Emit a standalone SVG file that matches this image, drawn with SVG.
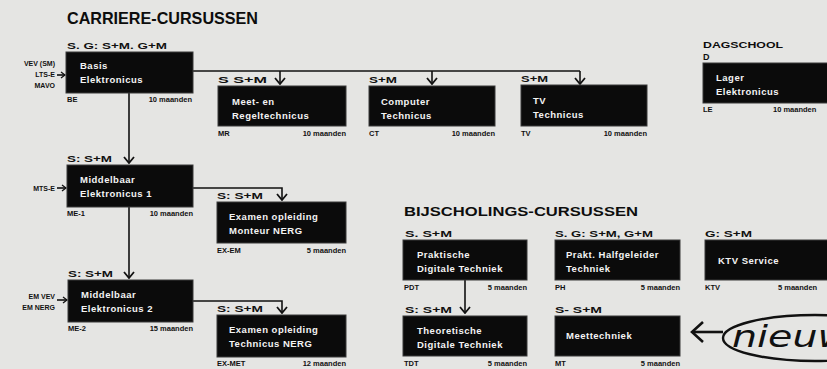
<svg xmlns="http://www.w3.org/2000/svg" width="827" height="369" viewBox="0 0 827 369">
<defs>
<style>
.bg{fill:#e5e5e3}
.box{fill:#0b0b0b;stroke:#3a3a3a;stroke-width:1}
.bt{font-family:"Liberation Sans",Arial,sans-serif;font-weight:bold;font-size:9.5px;fill:#f4f4f4;letter-spacing:0.5px}
.lb{font-family:"Liberation Sans",Arial,sans-serif;font-weight:bold;font-size:9px;fill:#111}
.sm{font-family:"Liberation Sans",Arial,sans-serif;font-weight:bold;font-size:7.5px;fill:#111}
.ttl{font-family:"Liberation Sans",Arial,sans-serif;font-weight:bold;fill:#0d0d0d}
.ln{fill:none;stroke:#111;stroke-width:1.6}
.in{font-family:"Liberation Sans",Arial,sans-serif;font-weight:bold;font-size:7px;fill:#111}
</style>
<marker id="ah" viewBox="-7 -6 8 12" markerWidth="8" markerHeight="12" markerUnits="userSpaceOnUse" orient="auto" refX="0" refY="0">
<path d="M-6,-5 L0,0 L-6,5" fill="none" stroke="#111" stroke-width="1.8"/>
</marker>
<marker id="ahs" viewBox="-5 -4 6 8" markerWidth="6" markerHeight="8" markerUnits="userSpaceOnUse" orient="auto" refX="0" refY="0">
<path d="M-4,-3 L0,0 L-4,3" fill="none" stroke="#111" stroke-width="1.3"/>
</marker>
<marker id="ahb" viewBox="-13 -12 15 24" markerWidth="15" markerHeight="24" markerUnits="userSpaceOnUse" orient="auto" refX="0" refY="0">
<path d="M-11,-10 L0,0 L-11,10" fill="none" stroke="#111" stroke-width="2.6"/>
</marker>
</defs>
<rect class="bg" x="0" y="0" width="827" height="369"/>

<text class="ttl" x="67" y="24" font-size="16.5" textLength="191" lengthAdjust="spacingAndGlyphs">CARRIERE-CURSUSSEN</text>
<text class="ttl" x="404" y="216" font-size="13.5" textLength="234" lengthAdjust="spacingAndGlyphs">BIJSCHOLINGS-CURSUSSEN</text>
<text class="ttl" x="703" y="48" font-size="8.5" textLength="80" lengthAdjust="spacingAndGlyphs">DAGSCHOOL</text>

<g id="connectors">
<path class="ln" d="M193,71 H580"/>
<path class="ln" d="M280,71 V84" marker-end="url(#ah)"/>
<path class="ln" d="M432,71 V84" marker-end="url(#ah)"/>
<path class="ln" d="M580,71 V84" marker-end="url(#ah)"/>
<path class="ln" d="M129,93 V163" marker-end="url(#ah)"/>
<path class="ln" d="M129,207 V278" marker-end="url(#ah)"/>
<path class="ln" d="M193,188 H282 V200" marker-end="url(#ah)"/>
<path class="ln" d="M193,301 H282 V313" marker-end="url(#ah)"/>
<path class="ln" d="M465,280 V313" marker-end="url(#ah)"/>
<path class="ln" d="M57,75 H65" marker-end="url(#ahs)"/>
<path class="ln" d="M57,188 H66" marker-end="url(#ahs)"/>
<path class="ln" d="M57,300 H67" marker-end="url(#ahs)"/>
</g>

<g id="inputs">
<text class="in" x="55" y="66" text-anchor="end">VEV (SM)</text>
<text class="in" x="55" y="77" text-anchor="end">LTS-E</text>
<text class="in" x="55" y="88" text-anchor="end">MAVO</text>
<text class="in" x="55" y="191" text-anchor="end">MTS-E</text>
<text class="in" x="55" y="299" text-anchor="end">EM VEV</text>
<text class="in" x="55" y="310" text-anchor="end">EM NERG</text>
</g>

<g id="BE">
<text class="lb" x="67" y="49" textLength="100" lengthAdjust="spacingAndGlyphs">S. G: S+M. G+M</text>
<rect class="box" x="66" y="52" width="127" height="41"/>
<text class="bt" x="80" y="69">Basis</text>
<text class="bt" x="80" y="83">Elektronicus</text>
<text class="sm" x="67" y="102">BE</text>
<text class="sm" x="192" y="102" text-anchor="end">10 maanden</text>
</g>

<g id="MR">
<text class="lb" x="218" y="83" textLength="49" lengthAdjust="spacingAndGlyphs">S  S+M</text>
<rect class="box" x="218" y="86" width="128" height="40"/>
<text class="bt" x="232" y="105">Meet- en</text>
<text class="bt" x="232" y="119">Regeltechnicus</text>
<text class="sm" x="218" y="136">MR</text>
<text class="sm" x="346" y="136" text-anchor="end">10 maanden</text>
</g>

<g id="CT">
<text class="lb" x="369" y="83" textLength="28" lengthAdjust="spacingAndGlyphs">S+M</text>
<rect class="box" x="369" y="86" width="126" height="40"/>
<text class="bt" x="381" y="105">Computer</text>
<text class="bt" x="381" y="119">Technicus</text>
<text class="sm" x="369" y="136">CT</text>
<text class="sm" x="495" y="136" text-anchor="end">10 maanden</text>
</g>

<g id="TV">
<text class="lb" x="521" y="82" textLength="27" lengthAdjust="spacingAndGlyphs">S+M</text>
<rect class="box" x="521" y="85" width="126" height="41"/>
<text class="bt" x="533" y="104">TV</text>
<text class="bt" x="533" y="118">Technicus</text>
<text class="sm" x="521" y="136">TV</text>
<text class="sm" x="647" y="136" text-anchor="end">10 maanden</text>
</g>

<g id="LE">
<text class="lb" x="703" y="60">D</text>
<rect class="box" x="703" y="63" width="130" height="40"/>
<text class="bt" x="716" y="81">Lager</text>
<text class="bt" x="716" y="95">Elektronicus</text>
<text class="sm" x="703" y="112">LE</text>
<text class="sm" x="773" y="112">10 maanden</text>
</g>

<g id="ME1">
<text class="lb" x="67" y="162" textLength="45" lengthAdjust="spacingAndGlyphs">S: S+M</text>
<rect class="box" x="67" y="165" width="126" height="42"/>
<text class="bt" x="80" y="183">Middelbaar</text>
<text class="bt" x="80" y="197">Elektronicus 1</text>
<text class="sm" x="67" y="216">ME-1</text>
<text class="sm" x="193" y="216" text-anchor="end">10 maanden</text>
</g>

<g id="ME2">
<text class="lb" x="68" y="277" textLength="45" lengthAdjust="spacingAndGlyphs">S: S+M</text>
<rect class="box" x="68" y="280" width="125" height="42"/>
<text class="bt" x="81" y="298">Middelbaar</text>
<text class="bt" x="81" y="312">Elektronicus  2</text>
<text class="sm" x="68" y="331">ME-2</text>
<text class="sm" x="193" y="331" text-anchor="end">15 maanden</text>
</g>

<g id="EXEM">
<text class="lb" x="217" y="199" textLength="46" lengthAdjust="spacingAndGlyphs">S: S+M</text>
<rect class="box" x="217" y="202" width="129" height="41"/>
<text class="bt" x="229" y="220">Examen opleiding</text>
<text class="bt" x="229" y="234">Monteur NERG</text>
<text class="sm" x="217" y="253">EX-EM</text>
<text class="sm" x="346" y="253" text-anchor="end">5 maanden</text>
</g>

<g id="EXMET">
<text class="lb" x="217" y="312" textLength="46" lengthAdjust="spacingAndGlyphs">S: S+M</text>
<rect class="box" x="217" y="315" width="129" height="42"/>
<text class="bt" x="229" y="333">Examen opleiding</text>
<text class="bt" x="229" y="347">Technicus NERG</text>
<text class="sm" x="217" y="366">EX-MET</text>
<text class="sm" x="346" y="366" text-anchor="end">12 maanden</text>
</g>

<g id="PDT">
<text class="lb" x="405" y="237" textLength="47" lengthAdjust="spacingAndGlyphs">S. S+M</text>
<rect class="box" x="403" y="240" width="124" height="40"/>
<text class="bt" x="417" y="258">Praktische</text>
<text class="bt" x="417" y="272">Digitale Techniek</text>
<text class="sm" x="404" y="290">PDT</text>
<text class="sm" x="527" y="290" text-anchor="end">5 maanden</text>
</g>

<g id="PH">
<text class="lb" x="555" y="237" textLength="98" lengthAdjust="spacingAndGlyphs">S. G: S+M, G+M</text>
<rect class="box" x="555" y="240" width="125" height="40"/>
<text class="bt" x="566" y="258">Prakt. Halfgeleider</text>
<text class="bt" x="566" y="272">Techniek</text>
<text class="sm" x="555" y="290">PH</text>
<text class="sm" x="680" y="290" text-anchor="end">5 maanden</text>
</g>

<g id="KTV">
<text class="lb" x="705" y="237" textLength="47" lengthAdjust="spacingAndGlyphs">G: S+M</text>
<rect class="box" x="705" y="240" width="130" height="40"/>
<text class="bt" x="718" y="264">KTV Service</text>
<text class="sm" x="705" y="290">KTV</text>
<text class="sm" x="778" y="290">5 maanden</text>
</g>

<g id="TDT">
<text class="lb" x="405" y="313" textLength="47" lengthAdjust="spacingAndGlyphs">S: S+M</text>
<rect class="box" x="403" y="316" width="124" height="40"/>
<text class="bt" x="417" y="334">Theoretische</text>
<text class="bt" x="417" y="348">Digitale Techniek</text>
<text class="sm" x="404" y="366">TDT</text>
<text class="sm" x="527" y="366" text-anchor="end">5 maanden</text>
</g>

<g id="MT">
<text class="lb" x="555" y="313" textLength="47" lengthAdjust="spacingAndGlyphs">S- S+M</text>
<rect class="box" x="555" y="316" width="125" height="40"/>
<text class="bt" x="566" y="339">Meettechniek</text>
<text class="sm" x="555" y="366">MT</text>
<text class="sm" x="680" y="366" text-anchor="end">5 maanden</text>
</g>

<g id="nieuw">
<ellipse cx="815" cy="338" rx="92" ry="23" fill="none" stroke="#111" stroke-width="2.4"/>
<path d="M723,332 H692" fill="none" stroke="#111" stroke-width="2.6" marker-end="url(#ahb)"/>
<text x="732" y="347" font-family="'DejaVu Sans',sans-serif" font-style="italic" font-size="31" fill="#111" textLength="118" lengthAdjust="spacingAndGlyphs">nieuw</text>
</g>
</svg>
